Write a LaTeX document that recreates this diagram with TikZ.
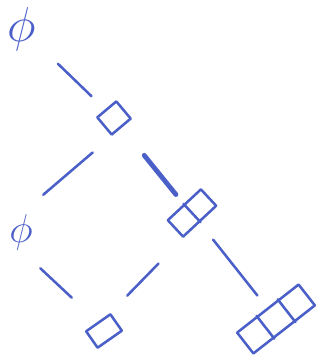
\documentclass[tikz,border=0pt]{standalone}
\usepackage{amsmath}
\usetikzlibrary{calc}
\definecolor{ink}{HTML}{4B5FC8}
\tikzset{
  emp/.style ={text=ink, inner sep=0pt, font=\Huge, scale=#1},
  yd/.style  ={draw=ink, line width=1.8pt, line join=round, inner sep=0pt,
               minimum height=0.56cm, minimum width=#1},
  lnk/.style ={draw=ink, line width=1.8pt, line cap=round},
  lnkb/.style={draw=ink, line width=3.4pt, line cap=round},
}

\begin{document}
\begin{tikzpicture}[x=0.025cm, y=-0.025cm]
  \useasboundingbox (0,0) rectangle (326,360);

  % ---- empty partitions ----
  \node[emp=1.4]  (p1) at (22,29)  {$\phi$};
  \node[emp=1.15] (p2) at (21,232) {$\phi$};

  % ---- young diagrams ----
  \node[yd=0.62cm, rotate=40] (b1) at (114,118) {};
  \node[yd=1.13cm, rotate=43] (b2) at (192,213) {};
  \node[yd=1.95cm, minimum height=0.66cm, rotate=38] (b3) at (276,319) {};
  \node[yd=0.74cm, minimum height=0.5cm, rotate=35] (b4) at (104,331) {};

  % cell walls
  \draw[lnk] (b2.north) -- (b2.south);
  \draw[lnk] ($(b3.north west)!1/3!(b3.north east)$) -- ($(b3.south west)!1/3!(b3.south east)$);
  \draw[lnk] ($(b3.north west)!2/3!(b3.north east)$) -- ($(b3.south west)!2/3!(b3.south east)$);

  % ---- links ----
  \draw[lnk, shorten <=1.25cm, shorten >=0.78cm] (p1.center) -- (b1.center);
  \draw[lnk, shorten <=0.62cm, shorten >=0.73cm] (b1.south west) -- (p2.north);
  \draw[lnkb, shorten <=1.2cm, shorten >=0.3cm] (b1.center) -- (b2.north);
  \draw[lnk, shorten <=0.66cm, shorten >=0.88cm] (p2.south) -- (b4.north);
  \draw[lnk, shorten <=0.88cm, shorten >=0.59cm] (b2.south west) -- (b4.north east);
  \draw[lnk, shorten <=0.85cm, shorten >=0.75cm] (b2.center) -- (b3.center);

\end{tikzpicture}
\end{document}
